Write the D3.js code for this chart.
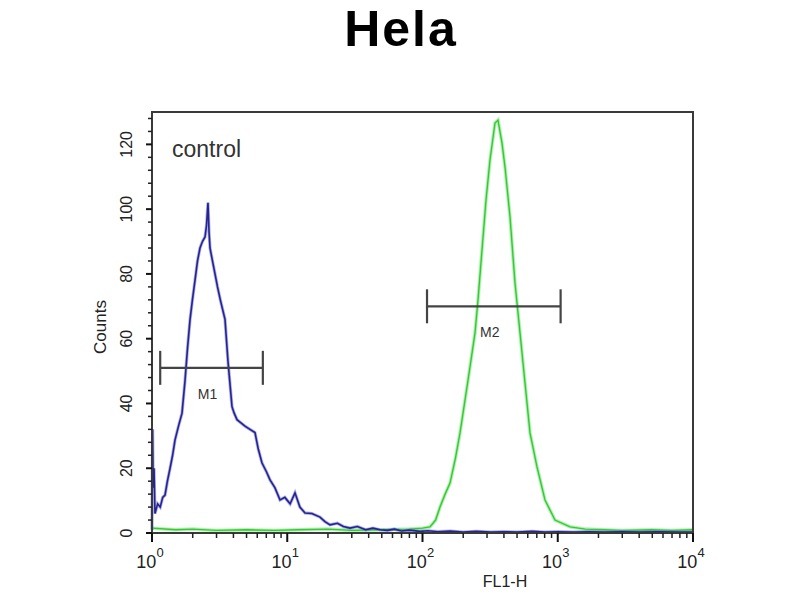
<!DOCTYPE html>
<html><head><meta charset="utf-8">
<script src="https://cdn.jsdelivr.net/npm/d3@7"></script>
<style>body{margin:0;background:#fff}text{font-family:Arial,"Liberation Sans",sans-serif}</style>
</head><body>
<svg id="c" width="800" height="600"></svg>
<script>
const title = "Hela";
const sampleLabel = "control";
const xLabel = "FL1-H";
const yLabel = "Counts";
const xTickExps = [0, 1, 2, 3, 4];
const yTicks = [0, 20, 40, 60, 80, 100, 120];

const blueX = [1.0,1.01,1.02,1.035,1.052,1.10,1.15,1.20,1.248,1.30,1.36,1.42,1.479,1.57,1.667,1.754,1.83,1.910,1.99,2.079,2.17,2.264,2.36,2.466,2.53,2.594,2.64,2.685,2.80,2.923,3.05,3.20,3.465,3.646,3.904,4.05,4.251,4.55,4.871,5.30,5.774,6.10,6.507,7.0,7.457,8.1,8.841,9.6,10.5,11.41,12.4,13.53,15.2,17.46,19.0,20.71,23.5,26.0,29.11,33,38,43,48.52,55,62,70,80,95.8,110,130,160,200,250,320,400,500,650,800,1000,1300,1700,2200,3000,4000,5500,7500,10000];
const blueY = [1,32,14,20,6,9,8,11,11.7,16,20,24,28.7,33,37,47,57,65.8,72,78,84,88,90,91.4,95,102,93,88,84,80,76,72,66,53,39,37,35,34,33,32,31,26,21.6,19,16.4,14,10.2,11,9,12.4,8,6.2,6,4.9,3.5,2.5,3,2,1.5,2,1,1.5,1,0.8,1.2,0.6,0.9,0.5,0.7,0.4,0.6,0.3,0.5,0.3,0.4,0.3,0.5,0.3,0.4,0.3,0.4,0.3,0.4,0.3,0.4,0.3,0.3];

const greenX = [1.0,1.5,2,3,5,8,12,20,30,50,80,100,113.6,125,134.7,147,159.7,175,189.4,206.2,224.5,244.5,257.3,275.4,294.8,315.6,343.6,361.6,387.1,407.4,443.6,483,526,572.8,623.5,702.4,804.8,954.4,1232,1600,2200,3000,5000,7000,10000];
const greenY = [1.5,1,1.2,0.8,1,0.8,1,1.2,0.8,1,1.2,1.5,1.9,4,8,12,15.4,23,30.9,41,51.3,61.8,72,87.4,102.8,115.2,126.6,127.5,120.4,113,97.6,77.2,61.8,46.3,30.9,20.4,10.2,4,1.9,1.2,1,0.8,1,0.8,1];

const markerNames = ["M1", "M2"];
const markerX1 = [1.15, 108];
const markerX2 = [6.6, 1050];
const markerY = [51, 70];

const svg = d3.select("#c");
const L = 152, R = 693, T = 112, B = 533;
const x = d3.scaleLog().domain([1, 10000]).range([L, R]);
const y = d3.scaleLinear().domain([0, 130]).range([B, T]);

svg.append("text").attr("x", 401).attr("y", 46).attr("text-anchor", "middle")
  .attr("font-size", 50).attr("font-weight", "bold").attr("letter-spacing", 2).attr("fill", "#000").text(title);

// curves
const line = d3.line().x(d => x(d[0])).y(d => y(d[1]));
const green = greenX.map((v, i) => [v, greenY[i]]);
const blue = blueX.map((v, i) => [v, blueY[i]]);
svg.append("path").attr("d", line(green)).attr("fill", "none").attr("stroke", "#8af08a").attr("stroke-width", 3.5).attr("opacity", 0.7);
svg.append("path").attr("d", line(green)).attr("fill", "none").attr("stroke", "#3cc43c").attr("stroke-width", 1.4);
svg.append("path").attr("d", line(blue)).attr("fill", "none").attr("stroke", "#6c6ce0").attr("stroke-width", 3.2).attr("opacity", 0.55);
svg.append("path").attr("d", line(blue)).attr("fill", "none").attr("stroke", "#24248a").attr("stroke-width", 1.6);

// frame
svg.append("rect").attr("x", L).attr("y", T).attr("width", R - L).attr("height", B - T)
  .attr("fill", "none").attr("stroke", "#3a3a3a").attr("stroke-width", 2);

// y axis ticks
const yMinor = d3.range(0, 131, 4).filter(v => v % 20 !== 0);
svg.append("g").selectAll("line").data(yMinor).join("line")
  .attr("x1", L - 4).attr("x2", L).attr("y1", d => y(d)).attr("y2", d => y(d)).attr("stroke", "#222").attr("stroke-width", 1.5);
svg.append("g").selectAll("line").data(yTicks).join("line")
  .attr("x1", L - 6).attr("x2", L).attr("y1", d => y(d)).attr("y2", d => y(d)).attr("stroke", "#111").attr("stroke-width", 2);
svg.append("g").selectAll("text").data(yTicks).join("text")
  .attr("transform", d => `translate(${L - 26},${y(d)}) rotate(-90)`)
  .attr("text-anchor", "middle").attr("dy", "0.35em").attr("font-size", 16).attr("fill", "#222").text(d => d);
svg.append("text").attr("transform", `translate(106,327) rotate(-90)`).attr("text-anchor", "middle")
  .attr("font-size", 17).attr("fill", "#222").text(yLabel);

// x axis ticks
const xMinor = [];
for (let e = 0; e < 4; e++) for (let k = 2; k <= 9; k++) xMinor.push(k * Math.pow(10, e));
svg.append("g").selectAll("line").data(xMinor).join("line")
  .attr("x1", d => x(d)).attr("x2", d => x(d)).attr("y1", B).attr("y2", B + 5).attr("stroke", "#222").attr("stroke-width", 1.5);
svg.append("g").selectAll("line").data(xTickExps).join("line")
  .attr("x1", d => x(Math.pow(10, d))).attr("x2", d => x(Math.pow(10, d))).attr("y1", B).attr("y2", B + 9).attr("stroke", "#111").attr("stroke-width", 2);
const xl = svg.append("g").selectAll("text").data(xTickExps).join("text")
  .attr("x", d => x(Math.pow(10, d)) - 2).attr("y", 568).attr("text-anchor", "middle").attr("font-size", 18).attr("fill", "#222");
xl.append("tspan").text("10");
xl.append("tspan").attr("dy", -11).attr("font-size", 13).text(d => d);
svg.append("text").attr("x", 505).attr("y", 587).attr("text-anchor", "middle").attr("font-size", 16).attr("fill", "#222").text(xLabel);

// sample label
svg.append("text").attr("x", 172).attr("y", 157).attr("font-size", 23).attr("fill", "#333").text(sampleLabel);

// markers
markerNames.forEach((n, i) => {
  const g = svg.append("g").attr("stroke", "#444").attr("stroke-width", 2.2);
  const yy = y(markerY[i]), a = x(markerX1[i]), b = x(markerX2[i]);
  g.append("line").attr("x1", a).attr("x2", b).attr("y1", yy).attr("y2", yy);
  g.append("line").attr("x1", a).attr("x2", a).attr("y1", yy - 17).attr("y2", yy + 17);
  g.append("line").attr("x1", b).attr("x2", b).attr("y1", yy - 17).attr("y2", yy + 17);
  svg.append("text").attr("x", (a + b) / 2 - 4).attr("y", yy + 31).attr("text-anchor", "middle")
    .attr("font-size", 14).attr("fill", "#333").text(n);
});
</script>
</body></html>
